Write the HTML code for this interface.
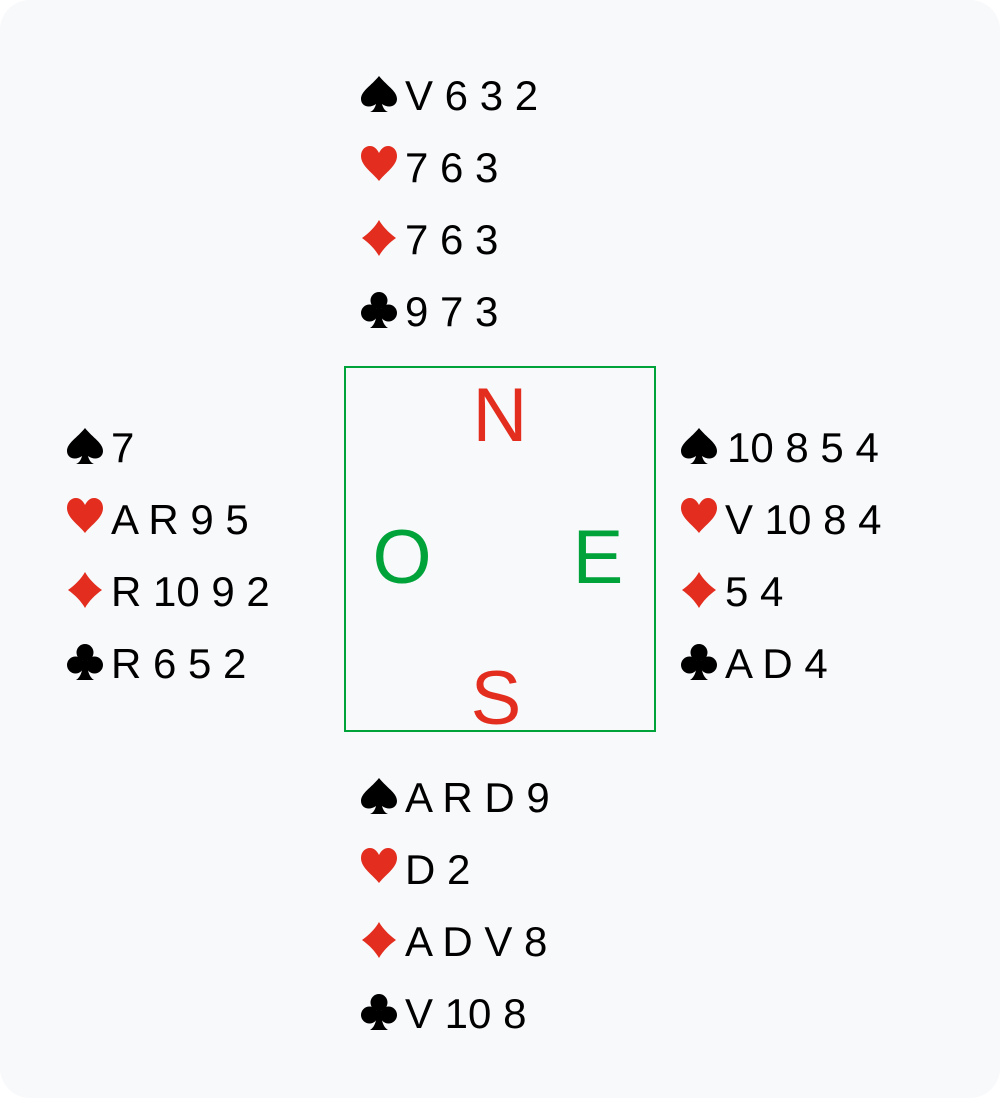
<!DOCTYPE html>
<html><head><meta charset="utf-8"><style>
html,body{margin:0;padding:0;background:#fff;}
svg{display:block}
.t{font-family:"Liberation Sans","DejaVu Sans",sans-serif;font-size:42px;fill:#000}
.L{font-family:"Liberation Sans","DejaVu Sans",sans-serif;font-size:76px}
</style></head><body>
<svg width="1000" height="1098" xmlns="http://www.w3.org/2000/svg" xmlns:xlink="http://www.w3.org/1999/xlink">
<defs>
<g id="sp"><path d="M18 0 C10 10 0 15 0 23 C0 30 8 33 15 28 C14 32 12 35 9 36 L27 36 C24 35 22 32 21 28 C28 33 36 30 36 23 C36 15 26 10 18 0Z" fill="#000"/></g>
<g id="he"><path d="M18 35 C12 27 0 20 0 10 C0 4 4 0 9 0 C13 0 16 3 18 7 C20 3 23 0 27 0 C32 0 36 4 36 10 C36 20 24 27 18 35Z" fill="#e32d1e"/></g>
<g id="di"><path d="M18 0 C22 7 28 13 35 18 C28 23 22 29 18 36 C14 29 8 23 1 18 C8 13 14 7 18 0Z" fill="#e32d1e"/></g>
<g id="cl"><circle cx="18" cy="8.5" r="8.5"/><circle cx="8.5" cy="21" r="8.5"/><circle cx="27.5" cy="21" r="8.5"/><path d="M16 16 L20 16 C20 26 22 33 27 36 L9 36 C14 33 16 26 16 16Z"/></g>
</defs>
<rect x="0" y="0" width="1000" height="1098" rx="30" fill="#f8f9fb"/>
<rect x="345" y="367" width="310" height="364" fill="none" stroke="#00a23a" stroke-width="2"/>
<text class="L" x="500" y="441" text-anchor="middle" fill="#e32d1e">N</text>
<text class="L" x="496" y="724" text-anchor="middle" fill="#e32d1e">S</text>
<text class="L" x="402" y="583" text-anchor="middle" fill="#00a23a">O</text>
<text class="L" x="598" y="583" text-anchor="middle" fill="#00a23a">E</text>
<g>
<use xlink:href="#sp" x="361" y="76"/><text class="t" x="405" y="110" xml:space="preserve">V 6 3 2</text>
<use xlink:href="#he" x="361" y="146"/><text class="t" x="405" y="182" xml:space="preserve">7 6 3</text>
<use xlink:href="#di" x="361" y="220"/><text class="t" x="405" y="254" xml:space="preserve">7 6 3</text>
<use xlink:href="#cl" x="361" y="292"/><text class="t" x="405" y="326" xml:space="preserve">9 7 3</text>
</g>
<g>
<use xlink:href="#sp" x="67" y="428"/><text class="t" x="111" y="462" xml:space="preserve">7</text>
<use xlink:href="#he" x="67" y="498"/><text class="t" x="111" y="534" xml:space="preserve">A R 9 5</text>
<use xlink:href="#di" x="67" y="572"/><text class="t" x="111" y="606" xml:space="preserve">R 10 9 2</text>
<use xlink:href="#cl" x="67" y="644"/><text class="t" x="111" y="678" xml:space="preserve">R 6 5 2</text>
</g>
<g>
<use xlink:href="#sp" x="681" y="428"/><text class="t" x="727" y="462" xml:space="preserve">10 8 5 4</text>
<use xlink:href="#he" x="681" y="498"/><text class="t" x="725" y="534" xml:space="preserve">V 10 8 4</text>
<use xlink:href="#di" x="681" y="572"/><text class="t" x="725" y="606" xml:space="preserve">5 4</text>
<use xlink:href="#cl" x="681" y="644"/><text class="t" x="725" y="678" xml:space="preserve">A D 4</text>
</g>
<g>
<use xlink:href="#sp" x="361" y="778"/><text class="t" x="405" y="812" xml:space="preserve">A R D 9</text>
<use xlink:href="#he" x="361" y="848"/><text class="t" x="405" y="884" xml:space="preserve">D 2</text>
<use xlink:href="#di" x="361" y="922"/><text class="t" x="405" y="956" xml:space="preserve">A D V 8</text>
<use xlink:href="#cl" x="361" y="994"/><text class="t" x="405" y="1028" xml:space="preserve">V 10 8</text>
</g>
</svg>
</body></html>
